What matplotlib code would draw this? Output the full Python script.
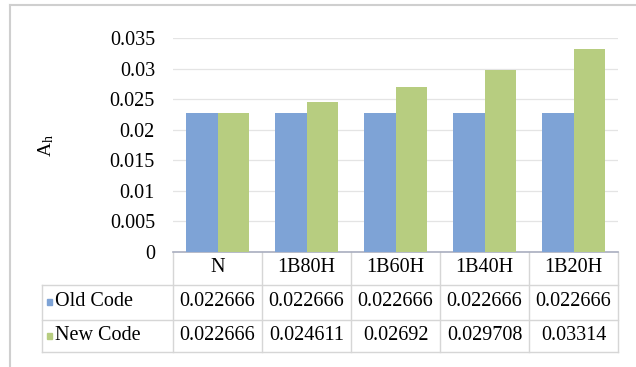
import matplotlib.pyplot as plt
import matplotlib.transforms as mtransforms
import numpy as np

categories = ['N', '1B80H', '1B60H', '1B40H', '1B20H']
old_code = [0.022666, 0.022666, 0.022666, 0.022666, 0.022666]
new_code = [0.022666, 0.024611, 0.02692, 0.029708, 0.03314]
series_names = ['Old Code', 'New Code']
yticks = [0, 0.005, 0.01, 0.015, 0.02, 0.025, 0.03, 0.035]
ytick_labels = ['0', '0.005', '0.01', '0.015', '0.02', '0.025', '0.03', '0.035']

blue = '#7ea3d6'
green = '#b7cd80'
W, H = 636, 367

plt.rcParams['font.family'] = ['Liberation Serif', 'DejaVu Serif']
plt.rcParams['mathtext.fontset'] = 'stix'

fig = plt.figure(figsize=(W / 100, H / 100), dpi=100)

# overlay in pixel units for the frame and the data table
over = fig.add_axes([0, 0, 1, 1])
over.set_xlim(0, W)
over.set_ylim(H, 0)
over.axis('off')

ax = fig.add_axes([173 / W, (H - 252) / H, 445 / W, 214 / H])
x = np.arange(len(categories))
bw = 0.35
ax.bar(x - bw / 2, old_code, bw, color=blue, zorder=3)
ax.bar(x + bw / 2, new_code, bw, color=green, zorder=3)
ax.set_xlim(-0.5, len(categories) - 0.5)
ax.set_ylim(0, 0.035)
ax.set_yticks(yticks)
ax.set_yticklabels(ytick_labels, fontsize=14.5)
ax.set_xticks([])
ax.grid(axis='y', color='#e4e4e4', lw=0.9, zorder=0)
for s in ['top', 'right', 'left']:
    ax.spines[s].set_visible(False)
ax.spines['bottom'].set_color('#a9aebf')
ax.spines['bottom'].set_linewidth(1.2)
ax.tick_params(axis='y', length=0, pad=13)
ax.set_ylabel(r'A$_\mathregular{h}$', fontsize=14)
ax.yaxis.set_label_coords(-0.262, 0.5)

# outer frame
over.plot([10, W], [5, 5], color='#cfcfcf', lw=1.5)
over.plot([10, 10], [5, H], color='#cfcfcf', lw=1.5)

# data table under the axis
tr = mtransforms.blended_transform_factory(ax.transData, over.transData)
grid_c = '#d6d6d6'
rows_y = [252, 285, 320, 352]
for yy in rows_y[1:]:
    over.plot([42, 618], [yy, yy], color=grid_c, lw=1)
over.plot([42, 42], [285, 352], color=grid_c, lw=1)
for xi in np.arange(-0.5, len(categories)):
    ax.plot([xi, xi], [252, 352], color=grid_c, lw=1, transform=tr, clip_on=False)

for i, c in enumerate(categories):
    ax.text(i, 268, c, transform=tr, ha='center', va='center', fontsize=14.5)
for i, (o, n) in enumerate(zip(old_code, new_code)):
    ax.text(i, 302, str(o), transform=tr, ha='center', va='center', fontsize=14.5)
    ax.text(i, 336, str(n), transform=tr, ha='center', va='center', fontsize=14.5)

for name, col, yy in zip(series_names, [blue, green], [302, 336]):
    over.add_patch(plt.Rectangle((47, yy - 3), 5, 6, color=col))
    over.text(55, yy, name, ha='left', va='center', fontsize=14.5)

fig.savefig('out.png', dpi=100)
